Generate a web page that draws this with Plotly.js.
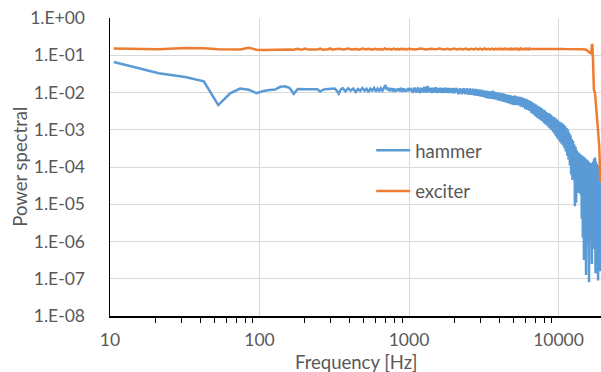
<!DOCTYPE html>
<html><head><meta charset="utf-8">
<script src="https://cdn.plot.ly/plotly-3.0.1.min.js"></script>
<style>html,body{margin:0;padding:0;background:#fff}#chart{width:601px;height:372px}</style>
</head><body><div id="chart"></div>
<script>
const hammerFreq = [
10.6,21.2,31.8,42.4,53,63.6,74.2,84.8,95.4,106,116.6,127.2,137.8,148.4,159,169.6,180.2,190.8,201.4,212,222.6,233.2,243.8,254.4,265,275.6,286.2,296.8,307.4,318,328.6,339.2,349.8,360.4,
376,392,408,424,440,456,472,488,504,520,536,552,568,584,600,616,632,648,664,680,696,712,728,744,760,776,792,808,824,840,856,872,888,904,920,936,952,968,984,1000,
1030,1060,1090,1120,1150,1180,1210,1240,1270,1300,1330,1360,1390,1420,1450,1480,1510,1540,1570,1600,1630,1660,1690,1720,1750,1780,1810,1840,1870,1900,1930,1960,1990,2020,
2080,2140,2200,2260,2320,2380,2440,2500,2560,2620,2680,2740,2800,2860,2920,2980,3040,3100,3160,3220,3280,3340,3400,3460,3520,3580,3640,3700,3760,3820,3880,3940,4000,4060,4120,4180,4240,4300,4360,4420,4480,4540,4600,4660,4720,4780,4840,4900,4960,5020,
5100,5200,5300,5400,5500,5600,5700,5800,5900,6000,6100,6200,6300,6400,6500,6600,6700,6800,6900,7000,7100,7200,7300,7400,7500,7600,7700,7800,7900,8000,8100,8200,8300,8400,8500,8600,8700,8800,8900,9000,9100,9200,9300,9400,9500,9600,9700,9800,9900,10000,
10120,10240,10360,10480,10600,10720,10840,10960,11080,11200,11320,11440,11560,11680,11800,11920,12040,12160,12280,12400,12520,12640,12760,12880,13000,13120,13240,13360,13480,13600,13720,13840,13960,14080,14200,14320,14440,14560,14680,14800,14920,15040,15160,15280,15400,15520,15640,15760,15880,16000,16120,16240,16360,16480,16600,16720,16840,16960,17080,17200,17320,17440,17560,17680,17800,17920,18040,18160,18280,18400,18520,18640,18760,18880,19000
];
const hammerPower = [
0.066,0.033,0.026,0.020,0.0046,0.0095,0.0128,0.0118,0.0096,0.0110,0.0116,0.0120,0.0142,0.0146,0.0132,0.0092,0.0124,0.0122,0.0121,0.0122,0.0123,0.0123,0.0122,0.0106,0.0118,0.0122,0.0123,0.0126,0.0129,0.0128,0.0112,0.0093,0.0120,0.0131,
0.0108,0.0130,0.0112,0.0128,0.0104,0.0124,0.0110,0.0132,0.0112,0.0126,0.0102,0.0127,0.0113,0.0133,0.0106,0.0128,0.0110,0.0131,0.0112,0.0140,0.0158,0.0118,0.0135,0.0108,0.0130,0.0113,0.0127,0.0104,0.0125,0.0110,0.0129,0.0107,0.0124,0.0112,0.0128,0.0105,0.0122,0.0109,0.0130,0.0110,
0.0131,0.0098,0.0134,0.0100,0.0136,0.0097,0.0132,0.0101,0.0142,0.0099,0.0150,0.0102,0.0134,0.0098,0.0133,0.0101,0.0137,0.0098,0.0131,0.0100,0.0134,0.0097,0.0132,0.0099,0.0135,0.0098,0.0131,0.0097,0.0133,0.0099,0.0130,0.0096,0.0132,0.0097,
0.0131,0.0091,0.0130,0.0090,0.0130,0.0090,0.0129,0.0088,0.0127,0.0087,0.0125,0.0083,0.0124,0.0082,0.0121,0.0079,0.0118,0.0077,0.0114,0.0073,0.0111,0.0070,0.0109,0.0069,0.0107,0.0068,0.0112,0.0066,0.0103,0.0065,0.0101,0.0062,0.0099,0.0060,0.0096,0.0058,0.0094,0.0056,0.0092,0.0054,0.0089,0.0053,0.0086,0.0051,0.0085,0.0049,0.0082,0.0048,0.0080,0.0046,
0.0083,0.0047,0.0079,0.0045,0.0076,0.0042,0.0074,0.0040,0.0070,0.0036,0.0067,0.0034,0.0062,0.0032,0.0059,0.0028,0.0054,0.0026,0.0050,0.0023,0.0047,0.0021,0.0043,0.00195,0.0041,0.0018,0.0038,0.0017,0.0035,0.0015,0.0033,0.0014,0.0030,0.0013,0.0028,0.00116,0.0027,0.00107,0.0025,0.00097,0.0023,0.00087,0.0022,0.00078,0.0021,0.00068,0.0019,0.00060,0.0018,0.00054,
1.66e-3,4.7e-4,1.58e-3,4.2e-4,1.48e-3,3.8e-4,1.38e-3,3.2e-4,1.26e-3,2.6e-4,1.12e-3,2.0e-4,1.0e-3,1.6e-4,8.3e-4,1.1e-4,7.1e-4,6.3e-5,5.6e-4,4.5e-5,5.0e-4,5.0e-5,4.0e-4,8.9e-6,3.5e-4,1.1e-5,2.8e-4,2.2e-5,2.5e-4,2.0e-5,2.4e-4,2.5e-5,2.2e-4,1.8e-5,2.1e-4,4.0e-6,2.0e-4,1.26e-6,1.9e-4,3.2e-7,1.8e-4,1.0e-6,1.66e-4,1.26e-7,1.6e-4,1.6e-6,1.5e-4,8e-7,1.4e-4,8e-8,1.3e-4,1.1e-6,1.26e-4,1.0e-6,1.26e-4,2.5e-7,1.3e-4,9e-7,1.4e-4,6.3e-7,1.66e-4,1.26e-6,1.8e-4,1.4e-7,1.4e-4,8e-7,1.2e-4,5e-7,1.1e-4,9e-8,1.1e-4,8e-7,1.05e-4,1.6e-7,1.0e-4
];
const exciterFreq = [
10.6,21.2,31.8,42.4,53,63.6,74.2,84.8,95.4,106,116.6,127.2,137.8,148.4,159,169.6,180.2,190.8,201.4,212,222.6,233.2,243.8,254.4,265,275.6,286.2,296.8,307.4,318,
340,365,390,415,440,465,490,515,540,565,590,615,640,665,690,715,740,765,790,815,840,865,890,915,940,965,990,
1100,1200,1300,1400,1500,1600,1700,1800,1900,2000,2100,2200,2300,2400,2500,2600,2700,2800,2900,3000,3100,3200,3300,3400,3500,3600,3700,3800,3900,4000,4100,4200,4300,4400,4500,4600,4700,4800,4900,5000,5100,5200,5300,5400,5500,5600,5700,5800,5900,6000,6100,6200,6300,6400,6500,
7000,7500,8000,8500,9000,9500,10000,10500,11000,11500,12000,12500,13000,13500,14000,14500,15000,
15300,15600,15800,16000,16250,16550,16750,16850,17000,17250,17550,18000,18750,19000
];
const exciterPower = [
0.152,0.146,0.156,0.155,0.146,0.142,0.143,0.158,0.141,0.139,0.141,0.142,0.146,0.144,0.143,0.141,0.150,0.140,0.151,0.142,0.143,0.144,0.142,0.150,0.141,0.143,0.143,0.152,0.141,0.144,
0.149,0.142,0.151,0.143,0.148,0.141,0.152,0.144,0.149,0.142,0.150,0.143,0.147,0.141,0.153,0.143,0.149,0.142,0.150,0.144,0.148,0.142,0.151,0.143,0.149,0.141,0.150,
0.143,0.151,0.142,0.150,0.144,0.152,0.143,0.149,0.142,0.151,0.144,0.150,0.143,0.152,0.142,0.149,0.144,0.151,0.143,0.150,0.142,0.152,0.144,0.149,0.143,0.151,0.142,0.150,0.144,0.151,0.143,0.150,0.142,0.152,0.144,0.149,0.143,0.151,0.142,0.150,0.144,0.151,0.143,0.150,0.142,0.152,0.144,0.149,0.143,0.151,0.144,0.150,0.143,0.151,0.147,
0.148,0.147,0.148,0.147,0.148,0.148,0.147,0.148,0.147,0.148,0.148,0.147,0.148,0.147,0.146,0.145,0.143,
0.140,0.133,0.126,0.122,0.115,0.112,0.20,0.19,0.08,0.012,0.0097,0.0028,3.5e-4,4e-5
];
const seriesNames = ['hammer', 'exciter'];
const xTickVals = [10, 100, 1000, 10000];
const xTickText = ['10', '100', '1000', '10000'];
const yTickVals = [1e-8, 1e-7, 1e-6, 1e-5, 1e-4, 1e-3, 1e-2, 1e-1, 1];
const yTickText = ['1.E-08', '1.E-07', '1.E-06', '1.E-05', '1.E-04', '1.E-03', '1.E-02', '1.E-01', '1.E+00'];
const xTitle = 'Frequency [Hz]';
const yTitle = 'Power spectral';

const minorTicks = [];
[10, 100, 1000].forEach(d => { for (let m = 2; m <= 9; m++) minorTicks.push(m * d); });

const FONT = 'Lato, "Open Sans", sans-serif';
const TITLE_FONT = {family: FONT, size: 18.5, color: '#595959'};
const traces = [
  {x: hammerFreq, y: hammerPower, name: seriesNames[0], type: 'scatter', mode: 'lines',
   line: {color: '#5B9BD5', width: 2.5}, legendgroup: 'g1'},
  {x: exciterFreq, y: exciterPower, name: seriesNames[1], type: 'scatter', mode: 'lines',
   line: {color: '#ED7D31', width: 2.5}, legendgroup: 'g2'}
];
const layout = {
  width: 601, height: 372,
  margin: {l: 110, r: 0, t: 18, b: 56, pad: 0},
  paper_bgcolor: '#ffffff', plot_bgcolor: '#ffffff',
  font: {family: FONT, color: '#595959', size: 17.5},
  showlegend: true,
  legend: {x: 0.532, y: 0.618, xanchor: 'left', yanchor: 'top', bgcolor: 'rgba(0,0,0,0)',
           borderwidth: 0, font: {family: FONT, size: 18.5, color: '#595959'},
           traceorder: 'grouped', tracegroupgap: 13.5, itemwidth: 34},
  xaxis: {type: 'log', range: [1, 4.2843], tickmode: 'array', tickvals: xTickVals, ticktext: xTickText,
          ticks: 'outside', ticklen: 5, tickcolor: 'rgba(0,0,0,0)',
          showgrid: true, gridcolor: '#d9d9d9', gridwidth: 1,
          showline: true, linecolor: '#000000', linewidth: 1.5, zeroline: false,
          ticklabelstandoff: 2, automargin: false,
          minor: {tickmode: 'array', tickvals: minorTicks, ticks: 'outside', ticklen: 5,
                  tickcolor: '#000000', tickwidth: 1, showgrid: false}},
  yaxis: {type: 'log', range: [-8, 0], tickmode: 'array', tickvals: yTickVals, ticktext: yTickText,
          ticks: '', showgrid: true, gridcolor: '#d9d9d9', gridwidth: 1,
          showline: true, linecolor: '#000000', linewidth: 1.5, zeroline: false,
          ticklabelstandoff: 20, automargin: false},
  annotations: [
    {text: xTitle, xref: 'paper', yref: 'paper', x: 0.5, y: -0.156, xanchor: 'center', yanchor: 'middle',
     showarrow: false, font: TITLE_FONT},
    {text: yTitle, xref: 'paper', yref: 'paper', x: -0.1839, y: 0.5, xanchor: 'center', yanchor: 'middle',
     textangle: -90, showarrow: false, font: TITLE_FONT}
  ]
};
Plotly.newPlot('chart', traces, layout, {staticPlot: true, displayModeBar: false});
</script>
</body></html>
